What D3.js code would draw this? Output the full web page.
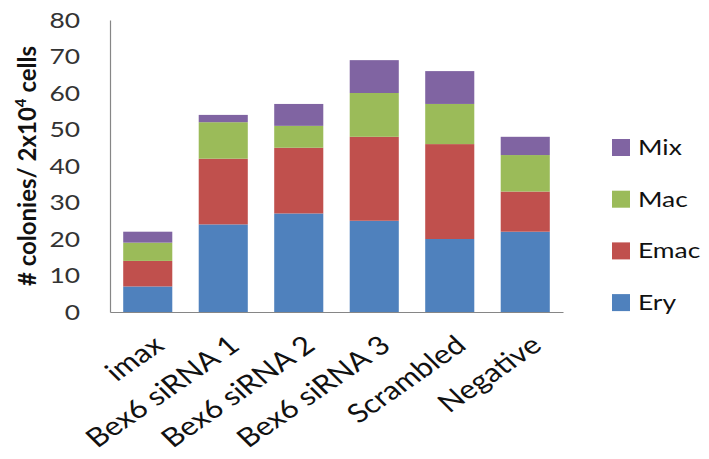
<!DOCTYPE html>
<html>
<head>
<meta charset="utf-8">
<script src="https://cdn.jsdelivr.net/npm/d3@7/dist/d3.min.js"></script>
<style>
  html, body { margin: 0; padding: 0; background: #fff; }
  svg { display: block; font-family: Lato, "Open Sans", sans-serif; }
</style>
</head>
<body>
<svg id="chart" width="709" height="459"></svg>
<script>
// Colony counts per condition, stacked by colony type
const categories = ["imax", "Bex6 siRNA 1", "Bex6 siRNA 2", "Bex6 siRNA 3", "Scrambled", "Negative"];
const seriesNames = ["Ery", "Emac", "Mac", "Mix"];
const ery  = [7, 24, 27, 25, 20, 22];
const emac = [7, 18, 18, 23, 26, 11];
const mac  = [5, 10, 6, 12, 11, 10];
const mix  = [3, 2, 6, 9, 9, 5];
const yTicks = [0, 10, 20, 30, 40, 50, 60, 70, 80];
const colors = ["#4F81BD", "#C0504D", "#9BBB59", "#8064A2"];

// text is drawn slightly wide, like the original export
const stretch = 1.2;

const svg = d3.select("#chart");

const rows = categories.map((c, i) => ({
  cat: c, Ery: ery[i], Emac: emac[i], Mac: mac[i], Mix: mix[i]
}));
const stacked = d3.stack().keys(seriesNames)(rows);

const x = d3.scaleBand().domain(categories).range([110, 563]).paddingInner(0.35).paddingOuter(0.175);
const y = d3.scaleLinear().domain([0, 80]).range([312, 20]);
const color = d3.scaleOrdinal().domain(seriesNames).range(colors);

// Stacked bars
svg.append("g").selectAll("g")
  .data(stacked)
  .join("g")
  .attr("fill", d => color(d.key))
  .selectAll("rect")
  .data(d => d)
  .join("rect")
  .attr("x", d => x(d.data.cat))
  .attr("width", x.bandwidth())
  .attr("y", d => y(d[1]))
  .attr("height", d => y(d[0]) - y(d[1]));

// Y axis
const yAxis = svg.append("g")
  .attr("transform", "translate(110,0)")
  .call(d3.axisLeft(y).tickValues(yTicks).tickSize(0).tickPadding(30 / stretch));
yAxis.select(".domain").attr("stroke", "#868686").attr("stroke-width", 1.2);
yAxis.selectAll("text")
  .attr("transform", `scale(${stretch},1)`)
  .attr("font-family", "Lato, 'Open Sans', sans-serif")
  .attr("font-size", 22)
  .attr("fill", "#333");

// X axis
const xAxis = svg.append("g")
  .attr("transform", "translate(0,312)")
  .call(d3.axisBottom(x).tickSize(0).tickFormat(""));
xAxis.select(".domain").attr("stroke", "#868686").attr("stroke-width", 1.2);

// Rotated category labels
svg.append("g").selectAll("text")
  .data(categories)
  .join("text")
  .attr("transform", d => `translate(${x(d) + x.bandwidth() / 2 + 4},${334}) scale(${stretch},1) rotate(-40)`)
  .attr("text-anchor", "end")
  .attr("dy", "0.7em")
  .attr("font-size", 26)
  .attr("fill", "#111")
  .text(d => d);

// Y axis title with superscript
const title = svg.append("text")
  .attr("transform", "translate(36,166) rotate(-90)")
  .attr("text-anchor", "middle")
  .attr("font-weight", "bold")
  .attr("font-size", 24)
  .attr("fill", "#111");
title.append("tspan").text("# colonies/ 2x10");
title.append("tspan").attr("font-size", 15).attr("dy", -10).text("4");
title.append("tspan").attr("dy", 10).text(" cells");

// Legend (top to bottom: Mix, Mac, Emac, Ery)
const legendItems = seriesNames.slice().reverse();
const legend = svg.append("g").selectAll("g")
  .data(legendItems)
  .join("g")
  .attr("transform", (d, i) => `translate(612,${147 + i * 51.7})`);
legend.append("rect")
  .attr("x", 0).attr("y", -8)
  .attr("width", 18).attr("height", 17)
  .attr("fill", d => color(d));
legend.append("text")
  .attr("transform", `translate(26,0) scale(${stretch},1)`)
  .attr("dy", "0.36em")
  .attr("font-size", 22)
  .attr("fill", "#111")
  .text(d => d);
</script>
</body>
</html>
